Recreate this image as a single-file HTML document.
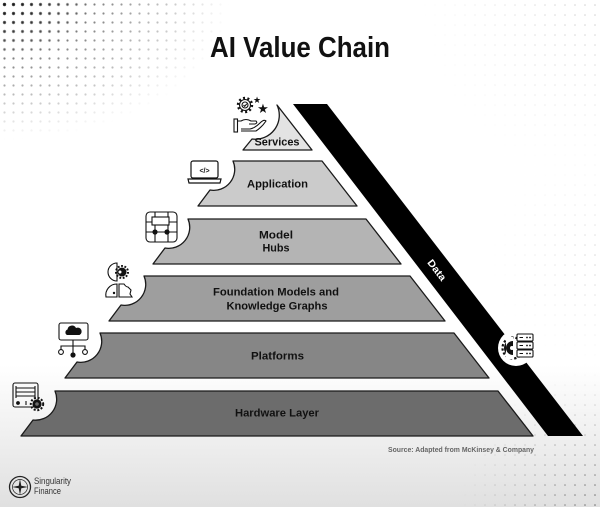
<!DOCTYPE html>
<html>
<head>
<meta charset="utf-8">
<style>
  html,body{margin:0;padding:0;background:#fff;}
  svg{display:block;}
  text{font-family:"Liberation Sans",Arial,sans-serif;}
</style>
</head>
<body>
<svg width="600" height="507" viewBox="0 0 600 507" xmlns="http://www.w3.org/2000/svg">
  <defs>
    <linearGradient id="bg" x1="0" y1="0" x2="0" y2="1">
      <stop offset="0" stop-color="#ffffff"/>
      <stop offset="0.72" stop-color="#ffffff"/>
      <stop offset="1" stop-color="#e0e0e0"/>
    </linearGradient>
    <pattern id="dots" width="9" height="9" patternUnits="userSpaceOnUse">
      <circle cx="4.5" cy="4.5" r="1.1" fill="#111"/>
    </pattern>
    <pattern id="dotsBig" width="9" height="9" patternUnits="userSpaceOnUse">
      <circle cx="4.5" cy="4.5" r="1.7" fill="#111"/>
    </pattern>
    <pattern id="dotsSmall" width="10" height="10" patternUnits="userSpaceOnUse">
      <circle cx="5" cy="5" r="0.8" fill="#333"/>
    </pattern>
    <radialGradient id="rgTL" cx="0" cy="0" r="1" gradientUnits="userSpaceOnUse" gradientTransform="translate(0 0) scale(230 140)">
      <stop offset="0" stop-color="#fff" stop-opacity="0.9"/>
      <stop offset="0.5" stop-color="#fff" stop-opacity="0.45"/>
      <stop offset="1" stop-color="#fff" stop-opacity="0"/>
    </radialGradient>
    <radialGradient id="rgTLb" cx="0" cy="0" r="1" gradientUnits="userSpaceOnUse" gradientTransform="translate(0 0) scale(90 60)">
      <stop offset="0" stop-color="#fff" stop-opacity="0.9"/>
      <stop offset="1" stop-color="#fff" stop-opacity="0"/>
    </radialGradient>
    <radialGradient id="rgTR" cx="600" cy="0" r="180" gradientUnits="userSpaceOnUse">
      <stop offset="0" stop-color="#fff" stop-opacity="0.25"/>
      <stop offset="1" stop-color="#fff" stop-opacity="0"/>
    </radialGradient>
    <radialGradient id="rgBR" cx="600" cy="507" r="140" gradientUnits="userSpaceOnUse">
      <stop offset="0" stop-color="#fff" stop-opacity="0.7"/>
      <stop offset="1" stop-color="#fff" stop-opacity="0"/>
    </radialGradient>
    <radialGradient id="rgR" cx="600" cy="260" r="110" gradientUnits="userSpaceOnUse">
      <stop offset="0" stop-color="#fff" stop-opacity="0.2"/>
      <stop offset="1" stop-color="#fff" stop-opacity="0"/>
    </radialGradient>
    <mask id="mTL"><rect width="600" height="507" fill="url(#rgTL)"/></mask>
    <mask id="mTLb"><rect width="600" height="507" fill="url(#rgTLb)"/></mask>
    <mask id="mTR"><rect width="600" height="507" fill="url(#rgTR)"/></mask>
    <mask id="mBR"><rect width="600" height="507" fill="url(#rgBR)"/></mask>
    <mask id="mR"><rect width="600" height="507" fill="url(#rgR)"/></mask>
  </defs>

  <!-- background -->
  <rect width="600" height="507" fill="url(#bg)"/>
  <rect width="600" height="507" fill="url(#dots)" mask="url(#mTL)"/>
  <rect width="600" height="507" fill="url(#dotsBig)" mask="url(#mTLb)"/>
  <rect width="600" height="507" fill="url(#dotsSmall)" mask="url(#mTR)"/>
  <rect width="600" height="507" fill="url(#dotsSmall)" mask="url(#mBR)"/>
  <rect width="600" height="507" fill="url(#dotsSmall)" mask="url(#mR)"/>

  <!-- title -->
  <text x="300" y="57" font-size="29" font-weight="bold" text-anchor="middle" fill="#111" textLength="180" lengthAdjust="spacingAndGlyphs">AI Value Chain</text>

  <!-- data bar -->
  <polygon points="293,104 327,104 583,436 548,436" fill="#000"/>
  <text x="437" y="273.5" font-size="10" font-weight="bold" fill="#fff" text-anchor="middle" transform="rotate(52.5 437 270)" textLength="24" lengthAdjust="spacingAndGlyphs">Data</text>

  <!-- layers -->
  <g stroke="#1a1a1a" stroke-width="1.3" stroke-linejoin="round">
    <path d="M277,105 L312,150 L243,150 L252,139 A24,24 0 0 0 277,105 Z" fill="#e3e3e3"/>
    <path d="M233,161 L322,161 L357,206 L198,206 L210,190 A21,21 0 0 0 233,161 Z" fill="#cbcbcb"/>
    <path d="M188,219 L366,219 L401,264 L153,264 L165,248 A21,21 0 0 0 188,219 Z" fill="#b4b4b4"/>
    <path d="M144,276 L410,276 L445,321 L109,321 L121,305 A21,21 0 0 0 144,276 Z" fill="#9e9e9e"/>
    <path d="M100,333 L454,333 L489,378 L65,378 L77,362 A21,21 0 0 0 100,333 Z" fill="#868686"/>
    <path d="M55,391 L498,391 L533,436 L21,436 L33,420 A21,21 0 0 0 55,391 Z" fill="#6c6c6c"/>
  </g>

  <!-- layer labels -->
  <g font-size="11" font-weight="bold" fill="#111" text-anchor="middle">
    <text x="277" y="145.5" textLength="45" lengthAdjust="spacingAndGlyphs">Services</text>
    <text x="277.5" y="187.5" textLength="61" lengthAdjust="spacingAndGlyphs">Application</text>
    <text x="276" y="238.5" textLength="34" lengthAdjust="spacingAndGlyphs">Model</text>
    <text x="276" y="251.5" textLength="27" lengthAdjust="spacingAndGlyphs">Hubs</text>
    <text x="276" y="295.5" textLength="126" lengthAdjust="spacingAndGlyphs">Foundation Models and</text>
    <text x="277" y="309.5" textLength="101" lengthAdjust="spacingAndGlyphs">Knowledge Graphs</text>
    <text x="277.5" y="359.5" textLength="53" lengthAdjust="spacingAndGlyphs">Platforms</text>
    <text x="277" y="416.5" textLength="84" lengthAdjust="spacingAndGlyphs">Hardware Layer</text>
  </g>

  <!-- Services icon -->
  <g stroke="#111" fill="none" stroke-width="1.1">
    <circle cx="245" cy="105" r="5.5"/>
    <circle cx="245" cy="105" r="7" stroke-width="2.4" stroke-dasharray="2 2.4"/>
    <circle cx="245" cy="105" r="3"/>
    <path d="M243.5,105 L244.7,106.3 L246.8,103.8"/>
    <path d="M237,121 L241,121 Q246,118 251,121 L256,121 Q258,123 255,124 L249,124"/>
    <path d="M241,129 L250,129 Q255,128 260,123 Q264,119 266,121 Q262,127 256,131 L241,131"/>
    <rect x="234" y="119" width="3.5" height="13"/>
  </g>
  <text x="257" y="103" font-size="9" fill="#111" text-anchor="middle">★</text>
  <text x="263" y="113" font-size="13" fill="#111" text-anchor="middle">★</text>

  <!-- Application icon -->
  <g stroke="#111" fill="none" stroke-width="1.2">
    <rect x="191" y="161" width="27" height="17" rx="2"/>
    <path d="M188,179 L221,179 L220,183 L189,183 Z"/>
  </g>
  <text x="204.5" y="173" font-size="7" font-weight="bold" fill="#111" text-anchor="middle">&lt;/&gt;</text>

  <!-- Model Hubs icon -->
  <g stroke="#111" fill="none" stroke-width="1.1">
    <rect x="146" y="212" width="31" height="30" rx="4"/>
    <line x1="155" y1="212" x2="155" y2="242"/>
    <line x1="168" y1="212" x2="168" y2="242"/>
    <line x1="146" y1="222" x2="177" y2="222"/>
    <line x1="146" y1="232" x2="177" y2="232"/>
    <rect x="152" y="217" width="17" height="8" fill="#fff"/>
  </g>
  <circle cx="155" cy="232" r="2.6" fill="#111"/>
  <circle cx="167" cy="232" r="2.6" fill="#111"/>

  <!-- Foundation icon -->
  <g stroke="#111" fill="none" stroke-width="1.1">
    <path d="M117,263 A9,9 0 0 0 117,281 Z"/>
    <path d="M106,297 A11,11 0 0 1 117,284 L117,297 Z"/>
    <path d="M119,284 L124,284 Q126,287 128,287 L131,290 L130,294 L132,297 L119,297 Z"/>
  </g>
  <circle cx="122" cy="272" r="4.5" fill="#111"/>
  <circle cx="122" cy="272" r="6" fill="none" stroke="#111" stroke-width="2" stroke-dasharray="1.8 1.6"/>
  <circle cx="120" cy="272" r="1.5" fill="#fff"/>
  <circle cx="114" cy="293" r="1.2" fill="#111"/>

  <!-- Platforms icon -->
  <g stroke="#111" fill="none" stroke-width="1.1">
    <rect x="59" y="323" width="29" height="17" rx="2"/>
    <line x1="73" y1="340" x2="73" y2="355"/>
    <path d="M61,350 L61,346 L85,346 L85,350"/>
    <circle cx="61" cy="352" r="2.4" fill="#fff"/>
    <circle cx="85" cy="352" r="2.4" fill="#fff"/>
  </g>
  <circle cx="73" cy="355" r="2.6" fill="#111"/>
  <path d="M67,335 A3,3 0 0 1 67.5,329.5 A4.5,4.5 0 0 1 76,328 A3.5,3.5 0 0 1 79.5,335 Z" fill="#111"/>

  <!-- Hardware icon -->
  <g stroke="#111" fill="none" stroke-width="1.1">
    <rect x="13" y="383" width="25" height="24" rx="2"/>
    <line x1="16" y1="388" x2="35" y2="388"/>
    <line x1="16" y1="392" x2="35" y2="392"/>
    <line x1="16" y1="396" x2="35" y2="396"/>
    <line x1="16" y1="386" x2="16" y2="398"/>
    <line x1="35" y1="386" x2="35" y2="398"/>
    <line x1="26" y1="401" x2="26" y2="405"/>
  </g>
  <circle cx="18" cy="403" r="1.9" fill="#111"/>
  <circle cx="37" cy="404" r="4.6" fill="#111"/>
  <circle cx="37" cy="404" r="6.2" fill="none" stroke="#111" stroke-width="2" stroke-dasharray="2 1.7"/>
  <circle cx="37" cy="404" r="1.8" fill="#6c6c6c"/>

  <!-- Data icon -->
  <circle cx="516" cy="348" r="18" fill="#fff"/>
  <path d="M513,339 A9,9 0 0 0 513,357 Z" fill="#111"/>
  <circle cx="513" cy="348" r="10.5" fill="none" stroke="#111" stroke-width="2.2" stroke-dasharray="2.3 2" />
  <rect x="506" y="337" width="7" height="22" fill="#fff"/>
  <path d="M513,341 A7,7 0 0 0 513,355 Z" fill="#111"/>
  <circle cx="512" cy="348" r="2" fill="#fff"/>
  <g stroke="#111" stroke-width="1.1" fill="#fff">
    <rect x="517" y="334" width="16" height="7" rx="1"/>
    <rect x="517" y="342" width="16" height="7" rx="1"/>
    <rect x="517" y="350" width="16" height="7" rx="1"/>
  </g>
  <g stroke="#111" stroke-width="1">
    <line x1="519.5" y1="337.5" x2="523" y2="337.5"/>
    <line x1="519.5" y1="345.5" x2="523" y2="345.5"/>
    <line x1="519.5" y1="353.5" x2="523" y2="353.5"/>
  </g>
  <g fill="#111">
    <circle cx="527" cy="337.5" r="0.9"/><circle cx="530" cy="337.5" r="0.9"/>
    <circle cx="527" cy="345.5" r="0.9"/><circle cx="530" cy="345.5" r="0.9"/>
    <circle cx="527" cy="353.5" r="0.9"/><circle cx="530" cy="353.5" r="0.9"/>
  </g>

  <!-- source -->
  <text x="388" y="452" font-size="7.5" font-weight="bold" fill="#666" textLength="146" lengthAdjust="spacingAndGlyphs">Source: Adapted from McKinsey &amp; Company</text>

  <!-- logo -->
  <g stroke="#222" fill="none">
    <circle cx="20" cy="487" r="10.5" stroke-width="1.3"/>
    <circle cx="20" cy="487" r="7.5" stroke-width="0.7"/>
  </g>
  <path d="M20,479 L21.3,485.7 L28,487 L21.3,488.3 L20,495 L18.7,488.3 L12,487 L18.7,485.7 Z" fill="#222"/>
  <text x="34" y="484" font-size="9" fill="#333" textLength="37" lengthAdjust="spacingAndGlyphs">Singularity</text>
  <text x="34" y="494" font-size="9" fill="#333" textLength="27" lengthAdjust="spacingAndGlyphs">Finance</text>
</svg>
</body>
</html>
